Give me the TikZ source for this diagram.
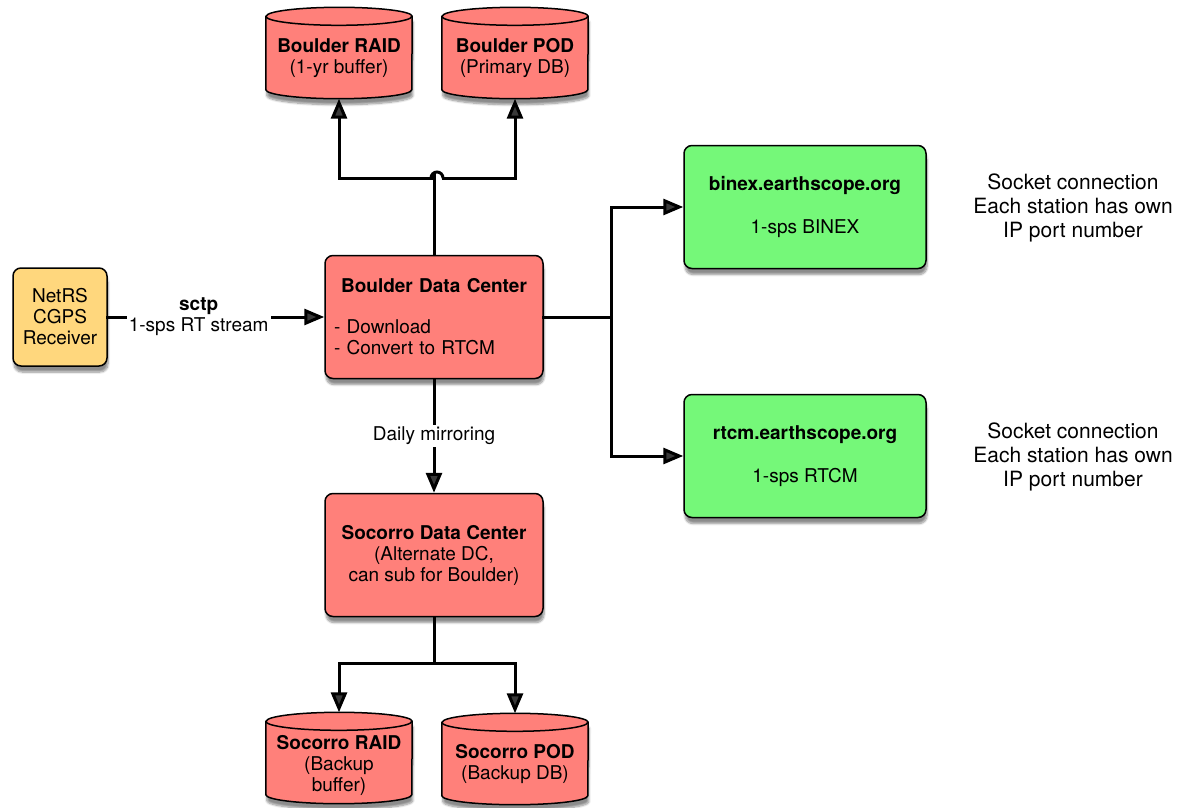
\documentclass[tikz,border=0pt]{standalone}
\usepackage{fontspec}
\setmainfont{TeX Gyre Heros}
\usetikzlibrary{arrows.meta,shadows.blur}
\definecolor{dcred}{RGB}{255,128,122}
\definecolor{srvgreen}{RGB}{117,248,121}
\definecolor{rcvyellow}{RGB}{255,215,125}
%drum outline round a named node
\newcommand\DbDrum[1]{%
    \draw[line width=1.5pt,fill=dcred,dropsh] ([yshift=-9pt]#1.north west) -- ([yshift=9pt]#1.south west)
        arc[start angle=180,end angle=360,x radius=73pt,y radius=9pt] -- ([yshift=-9pt]#1.north east)
        arc[start angle=0,end angle=180,x radius=73pt,y radius=9pt] -- cycle;
    \draw[line width=1.5pt] ([yshift=-9pt]#1.north west) arc[start angle=180,end angle=360,x radius=73pt,y radius=9pt];}

\begin{document}
\begin{tikzpicture}[x=1pt,y=-1pt,
    every node/.style={font=\fontsize{19}{21}\selectfont,align=center},
    dropsh/.style={blur shadow={shadow xshift=1pt,shadow yshift=-6pt,shadow blur steps=8,shadow opacity=45}},
    box/.style={draw,line width=1.5pt,rounded corners=8pt,dropsh},
    dc/.style={box,fill=dcred,minimum width=218pt,minimum height=123pt},
    srv/.style={box,fill=srvgreen,minimum width=242pt,minimum height=123pt},
    db/.style={minimum width=146pt,minimum height=91pt,inner sep=0pt},
    link/.style={line width=3pt,line cap=rect},
    conn/.style={link,-{Triangle[length=20pt,width=16pt]}},
    lbl/.style={fill=white,inner sep=2pt},
    note/.style={font=\fontsize{21}{24}\selectfont}]
    \useasboundingbox (0,0) rectangle (1178,808);

    %Receiver
    \node[box,fill=rcvyellow,minimum width=94pt,minimum height=98pt] (netrs) at (60,317) {NetRS\\CGPS\\Receiver};

    %Data centers
    \node[dc,text width=200pt,align=left] (bdc) at (434,317)
        {\makebox[200pt]{\textbf{Boulder Data Center}}\\[20pt]- Download\\- Convert to RTCM};
    \node[dc] (sdc) at (434,555) {\textbf{Socorro Data Center}\\(Alternate DC,\\can sub for Boulder)};

    %Servers
    \node[srv] (binex) at (805,207) {\textbf{binex.earthscope.org}\\[22pt]1-sps BINEX};
    \node[srv] (rtcm) at (805,456) {\textbf{rtcm.earthscope.org}\\[22pt]1-sps RTCM};
    \node[note] (binexnote) at (1073,208) {Socket connection\\Each station has own\\IP port number};
    \node[note] (rtcmnote) at (1073,457) {Socket connection\\Each station has own\\IP port number};

    %Databases
    \node[db] (braid) at (339,53) {};
    \node[db] (bpod) at (515,53) {};
    \node[db] (sraid) at (339,758) {};
    \node[db] (spod) at (515,759) {};
    \DbDrum{braid}
    \DbDrum{bpod}
    \DbDrum{sraid}
    \DbDrum{spod}
    \node (braidtext) at ([yshift=-5pt]braid.center) {\textbf{Boulder RAID}\\(1-yr buffer)};
    \node (bpodtext) at ([yshift=-5pt]bpod.center) {\textbf{Boulder POD}\\(Primary DB)};
    \node (sraidtext) at ([yshift=-7pt]sraid.center) {\textbf{Socorro RAID}\\(Backup\\buffer)};
    \node (spodtext) at ([yshift=-5pt]spod.center) {\textbf{Socorro POD}\\(Backup DB)};

    %Stream in
    \draw[conn] (netrs) -- node[lbl,pos=0.42] {\textbf{sctp}\\1-sps RT stream} (bdc);

    %Up
    \coordinate (hopl) at (431,178);
    \coordinate (hopr) at (443,178);
    \coordinate (hoptop) at (434,173);
    \draw[link] (bdc.north) -- (hoptop);
    \draw[conn] (hopl) -| (braid.south);
    \draw[conn] (hopr) -| (bpod.south);
    \draw[line width=3pt] (hopl) arc[start angle=180,end angle=0,radius=6pt];

    %Right
    \coordinate (bsplit) at (611,317);
    \draw[link] (bdc.east) -- (bsplit);
    \draw[conn] (bsplit) |- (binex.west);
    \draw[conn] (bsplit) |- (rtcm.west);

    %Down
    \draw[conn] (bdc) -- node[lbl] {Daily mirroring} (sdc);
    \coordinate (ssplit) at (434,663);
    \draw[link] (sdc.south) -- (ssplit);
    \draw[conn] (ssplit) -| (sraid.north);
    \draw[conn] (ssplit) -| (spod.north);
\end{tikzpicture}
\end{document}
